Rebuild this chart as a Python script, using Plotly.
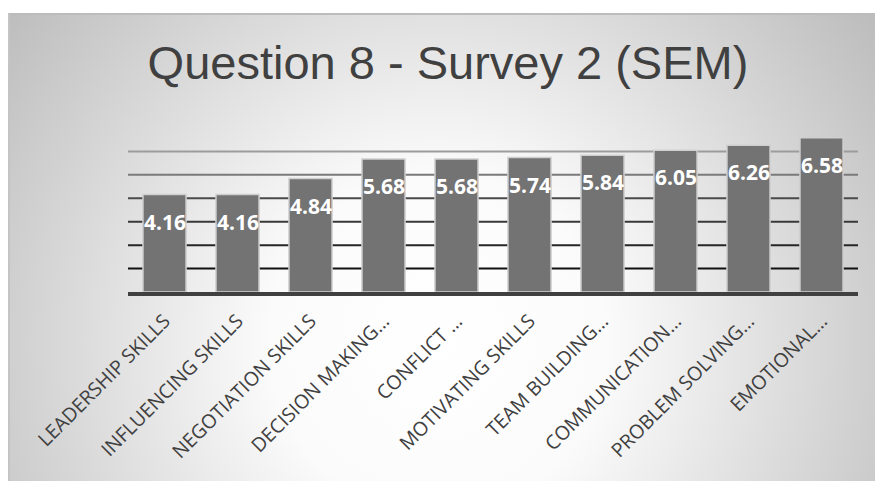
import base64
import plotly.graph_objects as go

categories = ["LEADERSHIP SKILLS", "INFLUENCING SKILLS", "NEGOTIATION SKILLS",
              "DECISION MAKING…", "CONFLICT …", "MOTIVATING SKILLS",
              "TEAM BUILDING…", "COMMUNICATION…", "PROBLEM SOLVING…", "EMOTIONAL…"]
values = [4.16, 4.16, 4.84, 5.68, 5.68, 5.74, 5.84, 6.05, 6.26, 6.58]
value_labels = ["4.16", "4.16", "4.84", "5.68", "5.68", "5.74", "5.84", "6.05", "6.26", "6.58"]
grid_levels = [1, 2, 3, 4, 5, 6]
grid_colors = ["#111111", "#262626", "#383838", "#4a4a4a", "#7a7a7a", "#9c9c9c"]

W, H = 875, 481
ML, MR, MT, MB = 128, 17, 128, 189
PW, PH = W - ML - MR, H - MT - MB

# background panel (radial grey gradient) as an SVG image
fx0, fy0, fx1, fy1 = 8, 13, 875, 481
pw, ph = fx1 - fx0, fy1 - fy0
svg = f'''<svg xmlns="http://www.w3.org/2000/svg" width="{pw}" height="{ph}" preserveAspectRatio="none">
<defs><radialGradient id="g" gradientUnits="userSpaceOnUse" cx="430" cy="330" r="560">
<stop offset="0" stop-color="#ffffff"/><stop offset="0.3" stop-color="#fbfbfb"/>
<stop offset="1" stop-color="#bababa"/></radialGradient></defs>
<rect x="0" y="0" width="{pw}" height="{ph}" fill="url(#g)"/>
<line x1="0" y1="1" x2="{pw}" y2="1" stroke="#bcbcbc" stroke-width="2"/>
<line x1="1" y1="0" x2="1" y2="{ph}" stroke="#c4c4c4" stroke-width="2"/>
</svg>'''
src = "data:image/svg+xml;base64," + base64.b64encode(svg.encode()).decode()

fig = go.Figure()
fig.add_trace(go.Bar(
    x=categories, y=values,
    marker=dict(color="#737373", line=dict(color="#cfcfcf", width=1.5)),
    width=0.59, hoverinfo="skip",
))

for v, c in zip(grid_levels, grid_colors):
    fig.add_shape(type="line", xref="paper", yref="y", x0=0, x1=1, y0=v, y1=v,
                  line=dict(color=c, width=2), layer="below")

for cat, v, t in zip(categories, values, value_labels):
    fig.add_annotation(x=cat, y=v, text=f"<b>{t}</b>", showarrow=False,
                       yanchor="middle", yshift=-27,
                       font=dict(family="Open Sans", size=21, color="white"))

fig.add_layout_image(dict(
    source=src, xref="paper", yref="paper",
    x=(fx0 - ML) / PW, y=(H - MB - fy0) / PH,
    sizex=pw / PW, sizey=ph / PH,
    xanchor="left", yanchor="top", sizing="stretch", layer="below"))

fig.update_layout(
    width=W, height=H,
    margin=dict(l=ML, r=MR, t=MT, b=MB, pad=0),
    paper_bgcolor="white", plot_bgcolor="rgba(0,0,0,0)",
    showlegend=False,
    title=dict(text="Question 8 - Survey 2 (SEM)", x=448 / W, xanchor="center",
               y=1 - 63 / H, yanchor="middle", xref="container", yref="container",
               font=dict(family="Liberation Sans, Arial", size=47, color="#404040")),
    xaxis=dict(showgrid=False, showline=True, linecolor="#404040", linewidth=4,
               tickangle=-45, ticks="", ticklabelstandoff=6,
               tickfont=dict(family="Open Sans", size=19.5, color="#404040"),
               fixedrange=True),
    yaxis=dict(range=[0, 7], showgrid=False, zeroline=False, showticklabels=False,
               ticks="", fixedrange=True),
    bargap=0.41,
)

fig.write_html("out.html", config={"displayModeBar": False})
